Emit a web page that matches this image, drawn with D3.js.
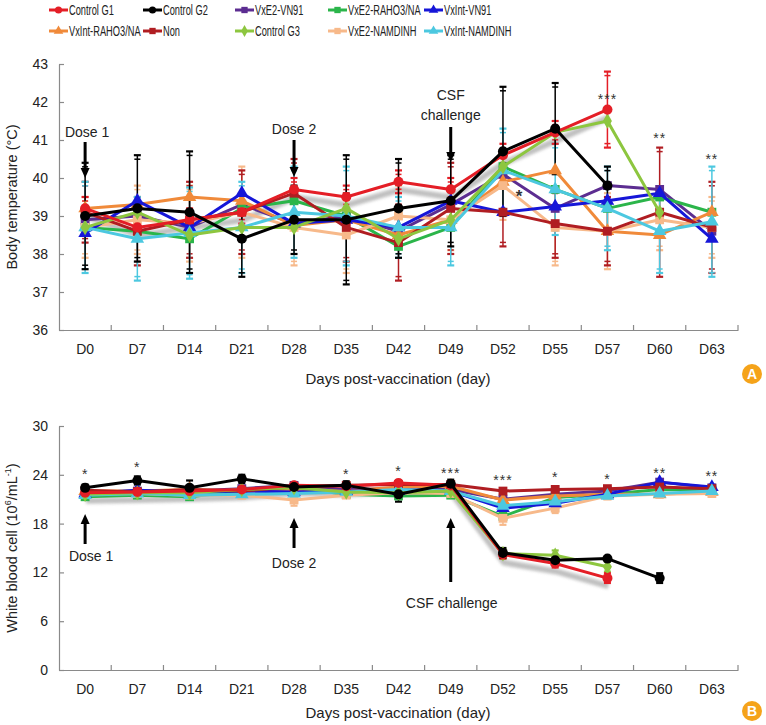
<!DOCTYPE html>
<html><head><meta charset="utf-8">
<script src="https://cdn.jsdelivr.net/npm/d3@7"></script>
<style>
body{margin:0;background:#fff;}
svg{display:block;font-family:"Liberation Sans",Arial,Helvetica,sans-serif;}
</style></head><body>
<svg id="c" width="766" height="725"></svg>
<script>
// ---------- DATA ----------
const days = ["D0","D7","D14","D21","D28","D35","D42","D49","D52","D55","D57","D60","D63"];
const seriesNames = ["Control G1","Control G2","VxE2-VN91","VxE2-RAHO3/NA","VxInt-VN91",
                     "VxInt-RAHO3/NA","Non","Control G3","VxE2-NAMDINH","VxInt-NAMDINH"];
const seriesColors = ["#e41e26","#000000","#5c2d91","#2bb54a","#1616d8",
                      "#f08a3a","#b01d22","#8dc63f","#f7b98a","#4cc8e0"];
const seriesSymbols = ["circle","circle","square","square","triangle",
                       "triangle","square","diamond","square","triangle"];

// Panel A: body temperature (°C)
const tempG1     = [39.2,38.7,38.9,39.1,39.7,39.5,39.9,39.7,40.6,41.2,41.8,null,null];
const tempG2     = [39.0,39.2,39.1,38.4,38.9,38.9,39.2,39.4,40.7,41.3,39.8,null,null];
const tempE2VN   = [38.9,39.0,38.7,39.3,38.8,39.0,38.6,39.3,40.1,39.2,39.8,39.7,38.6];
const tempE2RA   = [38.7,38.6,38.4,39.2,39.4,39.0,38.2,38.7,40.3,39.7,39.2,39.5,39.1];
const tempIntVN  = [38.55,39.4,38.7,39.6,38.8,38.9,38.7,39.4,39.1,39.25,39.4,39.6,38.4];
const tempIntRA  = [39.2,39.3,39.5,39.4,38.75,38.9,38.5,38.9,39.9,40.2,38.6,38.5,39.1];
const tempNon    = [39.1,38.6,38.9,39.1,39.6,38.7,38.3,39.2,39.1,38.8,38.6,39.1,38.7];
const tempG3     = [38.7,39.1,38.5,38.7,38.7,39.2,38.4,38.9,40.3,41.2,41.5,39.1,null];
const tempE2ND   = [38.7,38.9,38.8,39.1,38.7,38.5,39.0,38.9,39.8,38.7,38.6,38.9,38.7];
const tempIntND  = [38.7,38.4,38.55,38.7,39.1,39.0,38.7,38.7,40.2,39.7,39.2,38.6,38.85];

const sdTempG1   = [0.3,0.3,0.3,0.3,0.3,0.3,0.3,0.3,0.3,0.3,1.0,null,null];
const sdTempG2   = [1.4,1.4,1.6,1.0,0.9,1.7,1.3,1.2,1.7,1.2,0.5,null,null];
const sdTempNon  = [0.8,0.9,1.0,1.1,0.9,0.9,1.0,1.2,0.9,0.9,0.9,1.7,1.2];
const sdTempE2ND = [0.8,0.9,1.0,1.2,1.0,1.0,0.8,0.8,0.9,1.0,1.0,0.8,0.8];
const sdTempIntND= [1.2,1.1,1.2,1.2,1.2,1.3,0.8,1.0,1.1,1.2,1.1,1.1,1.45];

// Panel B: white blood cell (10^6/mL)
const wbcG1      = [21.8,21.9,22.0,22.2,22.7,22.6,23.0,22.7,14.2,13.1,11.3,null,null];
const wbcG2      = [22.4,23.3,22.4,23.5,22.5,22.7,21.6,22.9,14.4,13.5,13.7,11.3,null];
const wbcE2VN    = [21.8,22.0,22.0,22.3,22.7,22.2,22.3,22.2,21.0,21.6,22.0,23.1,22.4];
const wbcE2RA    = [21.3,21.5,21.3,22.0,22.4,21.6,21.4,21.5,18.9,21.2,21.6,22.2,22.1];
const wbcIntVN   = [21.7,22.1,21.9,22.0,21.9,22.0,22.0,22.0,19.9,20.5,21.6,23.1,22.5];
const wbcIntRA   = [22.0,22.0,22.2,22.0,22.2,22.0,22.5,22.6,20.9,21.4,21.6,21.6,21.9];
const wbcNon     = [22.1,21.9,22.2,22.0,22.5,22.7,22.8,22.8,22.0,22.2,22.3,22.5,22.3];
const wbcG3      = [21.6,21.8,21.8,22.2,22.4,21.9,21.8,22.0,14.3,14.1,12.7,null,null];
const wbcE2ND    = [21.6,21.7,21.5,21.5,20.9,21.5,21.8,21.7,18.65,19.9,21.4,21.6,21.7];
const wbcIntND   = [21.5,21.7,21.5,21.6,21.7,21.9,22.2,22.0,20.2,20.7,21.4,21.7,22.0];

const sdWbcG1    = [0.3,0.3,0.3,0.3,0.3,0.3,0.3,0.3,0.5,0.5,0.6,null,null];
const sdWbcG2    = [0.4,0.5,0.9,0.5,0.3,0.5,0.9,0.5,0.6,0.6,0.3,0.6,null];
const sdWbcG3    = [0.4,0.3,0.3,0.3,0.3,0.3,0.3,0.3,0.6,0.6,0.6,null,null];
const sdWbcE2ND  = [0.3,0.3,0.3,0.4,0.7,0.3,0.3,0.3,0.8,0.6,0.4,0.4,0.4];

const tempTicks = [36,37,38,39,40,41,42,43];
const wbcTicks  = [0,6,12,18,24,30];

const sigA = [["D52","*"],["D57","***"],["D60","**"],["D63","**"]];
const sigB = [["D0","*"],["D7","*"],["D35","*"],["D42","*"],["D49","***"],["D52","***"],
              ["D55","*"],["D57","*"],["D60","**"],["D63","**"]];

// ---------- BUILD ----------
const tempSeries = [tempG1,tempG2,tempE2VN,tempE2RA,tempIntVN,tempIntRA,tempNon,tempG3,tempE2ND,tempIntND];
const wbcSeries  = [wbcG1,wbcG2,wbcE2VN,wbcE2RA,wbcIntVN,wbcIntRA,wbcNon,wbcG3,wbcE2ND,wbcIntND];
const tempSd = [sdTempG1,sdTempG2,null,null,null,null,sdTempNon,null,sdTempE2ND,sdTempIntND];
const wbcSd  = [sdWbcG1,sdWbcG2,null,null,null,null,null,sdWbcG3,sdWbcE2ND,null];
const drawOrder = [2,3,5,8,4,6,9,7,0,1];
const symMap = {circle:d3.symbolCircle, square:d3.symbolSquare, triangle:d3.symbolTriangle, diamond:d3.symbolDiamond};
const symSize = {circle:80, square:78, triangle:80, diamond:70};

const svg = d3.select("#c");
const defs = svg.append("defs");
defs.append("filter").attr("id","blur").attr("x","-5%").attr("y","-20%").attr("width","110%").attr("height","140%")
  .append("feGaussianBlur").attr("stdDeviation",1.6);

const x = d3.scaleBand().domain(days).range([59,738]);
const cx = d => x(d) + x.bandwidth()/2;
const axisColor = "#8a8a8a";

function drawPanel(y, ticks, series, sds, yTitle, titleY){
  const g = svg.append("g");
  const ya = g.append("g").attr("transform","translate(59,0)")
    .call(d3.axisLeft(y).tickValues(ticks).tickFormat(d3.format("d")).tickSizeInner(-5).tickSizeOuter(0).tickPadding(11));
  const y0 = y.range()[0];
  const xa = g.append("g").attr("transform",`translate(0,${y0})`)
    .call(d3.axisBottom(x).tickSize(0).tickPadding(14));
  [ya,xa].forEach(a=>{
    a.select(".domain").attr("stroke",axisColor).attr("stroke-width",1.2);
    a.selectAll(".tick line").attr("stroke",axisColor).attr("stroke-width",1.2);
    a.selectAll("text").attr("font-size",14).attr("fill","#222")
      .attr("font-family",'"Liberation Sans",Arial,sans-serif');
  });
  const bounds = days.slice(1).map(d=>x(d)).concat([x.range()[1]]);
  g.selectAll(".bt").data(bounds).enter().append("line")
    .attr("x1",d=>d).attr("x2",d=>d).attr("y1",y0).attr("y2",y0-5)
    .attr("stroke",axisColor).attr("stroke-width",1.2);
  g.append("text").attr("transform",`translate(17,${(y.range()[0]+y.range()[1])/2}) rotate(-90)`)
    .attr("text-anchor","middle").attr("font-size",14.5).attr("fill","#222").html(yTitle);
  g.append("text").attr("x",398).attr("y",titleY).attr("text-anchor","middle")
    .attr("font-size",15).attr("fill","#222").text("Days post-vaccination (day)");

  const line = d3.line().defined(v=>v!=null).x((v,i)=>cx(days[i])).y(v=>y(v));
  g.append("path").datum(series[0]).attr("d",line).attr("fill","none")
    .attr("stroke","#b5b5b5").attr("stroke-width",6).attr("transform","translate(1,8)")
    .attr("filter","url(#blur)").attr("opacity",0.85);
  drawOrder.forEach(si=>{
    const sd = sds[si]; if(!sd) return;
    const vals = series[si];
    const eg = g.append("g").attr("stroke",seriesColors[si]).attr("stroke-width",1.5);
    vals.forEach((v,i)=>{
      if(v==null || sd[i]==null) return;
      const xc = cx(days[i]);
      const lo = y(v - sd[i]), hi = y(Math.min(v + sd[i], y.domain()[1]));
      eg.append("line").attr("x1",xc).attr("x2",xc).attr("y1",lo).attr("y2",hi);
      [lo,hi].forEach(yy=>{
        const off = yy===lo?-4:4;
        eg.append("line").attr("x1",xc-3.5).attr("x2",xc+3.5).attr("y1",yy).attr("y2",yy).attr("stroke-width",2.2);
        eg.append("line").attr("x1",xc-3).attr("x2",xc+3).attr("y1",yy+off).attr("y2",yy+off).attr("stroke-width",1.5);
      });
    });
  });
  drawOrder.forEach(si=>{
    const vals = series[si];
    g.append("path").datum(vals).attr("d",line).attr("fill","none")
      .attr("stroke",seriesColors[si]).attr("stroke-width",3).attr("stroke-linejoin","round");
    const sym = d3.symbol().type(symMap[seriesSymbols[si]]).size(symSize[seriesSymbols[si]]);
    g.selectAll(null).data(vals.map((v,i)=>[v,i]).filter(p=>p[0]!=null)).enter().append("path")
      .attr("d",sym).attr("transform",p=>`translate(${cx(days[p[1]])},${y(p[0])})`)
      .attr("fill",seriesColors[si]);
  });
  return g;
}

const yA = d3.scaleLinear().domain([36,43]).range([330,64]);
const yB = d3.scaleLinear().domain([0,30]).range([670,426]);
const gA = drawPanel(yA, tempTicks, tempSeries, tempSd, "Body temperature (°C)", 384);
const gB = drawPanel(yB, wbcTicks, wbcSeries, wbcSd,
  'White blood cell (10<tspan dy="-6" font-size="9">6</tspan><tspan dy="6">/mL</tspan><tspan dy="-6" font-size="9">-1</tspan><tspan dy="6">)</tspan>', 718);

// ---------- ANNOTATIONS ----------
function arrow(g, xd, yStart, yEnd){
  const xc = cx(xd), dir = yEnd>yStart?1:-1;
  g.append("line").attr("x1",xc).attr("x2",xc).attr("y1",yStart)
    .attr("y2", yEnd - dir*8).attr("stroke","#000").attr("stroke-width",3);
  g.append("path").attr("d",`M${xc-4.5},${yEnd-dir*10} L${xc+4.5},${yEnd-dir*10} L${xc},${yEnd} Z`)
    .attr("fill","#000");
}
function label(g, xd, yy, txt, dx){
  g.append("text").attr("x",cx(xd)+(dx||0)).attr("y",yy).attr("text-anchor","middle")
    .attr("font-size",14).attr("fill","#222").text(txt);
}
label(gA,"D0",137,"Dose 1",2); arrow(gA,"D0",142,178);
label(gA,"D28",134,"Dose 2",0); arrow(gA,"D28",140,177);
label(gA,"D49",100,"CSF",0); label(gA,"D49",120,"challenge",0); arrow(gA,"D49",127,162);
arrow(gB,"D0",544,514); label(gB,"D0",561,"Dose 1",6);
arrow(gB,"D28",548,518); label(gB,"D28",568,"Dose 2",0);
arrow(gB,"D49",582,518); label(gB,"D49",608,"CSF challenge",1);

const starYA = {"D57":104,"D60":143,"D63":164};
sigA.forEach(([d,s])=>{
  if(d==="D52"){
    gA.append("text").attr("x",cx(d)+16).attr("y",202).attr("text-anchor","middle")
      .attr("font-size",17).attr("font-weight","bold").attr("fill","#333").text(s);
  } else {
    gA.append("text").attr("x",cx(d)).attr("y",starYA[d]).attr("text-anchor","middle")
      .attr("font-size",14).attr("fill","#333").attr("letter-spacing",1).text(s);
  }
});
const starYB = {"D0":479,"D7":472,"D35":479,"D42":476,"D49":478,"D52":485,"D55":482,"D57":484,"D60":478,"D63":481};
sigB.forEach(([d,s])=>{
  gB.append("text").attr("x",cx(d)).attr("y",starYB[d]).attr("text-anchor","middle")
    .attr("font-size",14).attr("fill","#333").attr("letter-spacing",1).text(s);
});

[["A",374],["B",711]].forEach(([t,yy])=>{
  svg.append("circle").attr("cx",752).attr("cy",yy).attr("r",10).attr("fill","#f5a31a");
  svg.append("text").attr("x",752).attr("y",yy+5).attr("text-anchor","middle")
    .attr("font-size",14).attr("font-weight","bold").attr("fill","#fff").text(t);
});

// ---------- LEGEND ----------
const legX = [49,143,235,328,424];
const legY = [10,31];
const leg = svg.append("g");
seriesNames.forEach((name,i)=>{
  const lx = legX[i%5], ly = legY[Math.floor(i/5)];
  const it = leg.append("g").attr("transform",`translate(${lx},${ly})`);
  it.append("line").attr("x1",0).attr("x2",19).attr("y1",0).attr("y2",0)
    .attr("stroke",seriesColors[i]).attr("stroke-width",3);
  it.append("path").attr("d",d3.symbol().type(symMap[seriesSymbols[i]]).size(40))
    .attr("transform","translate(9.5,0)").attr("fill",seriesColors[i]);
  it.append("text").attr("transform","translate(20,5) scale(0.64,1)")
    .attr("font-size",14.5).attr("fill","#222").text(name);
});
</script>
</body></html>
